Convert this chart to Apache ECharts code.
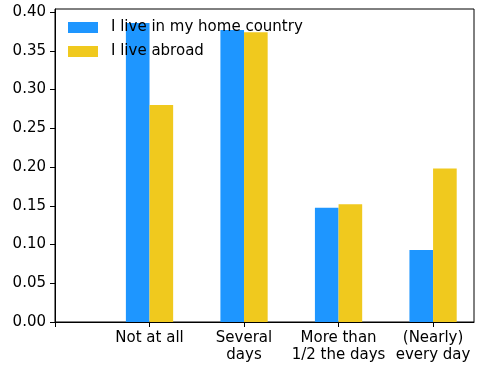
<!DOCTYPE html>
<html>
<head>
<meta charset="utf-8">
<script src="https://cdn.jsdelivr.net/npm/echarts@6/dist/echarts.min.js"></script>
<style>html,body{margin:0;padding:0;background:#fff}#c{width:477px;height:365px}</style>
</head>
<body>
<div id="c"></div>
<script>
const categories = ['', 'Not at all', 'Several\ndays', 'More than\n1/2 the days', '(Nearly)\nevery day'];
const seriesNames = ['I live in my home country', 'I live abroad'];
const homeValues = [null, 0.386, 0.377, 0.1475, 0.093];
const abroadValues = [null, 0.280, 0.374, 0.152, 0.198];
const yTicks = [0, 0.05, 0.10, 0.15, 0.20, 0.25, 0.30, 0.35, 0.40];
const colors = ['#1E96FF', '#F0C91E'];

const FONT = 'DejaVu Sans';
const FS = 15;
const BAR_W = 0.25;

function makeData(vals) {
  const out = [];
  vals.forEach((v, i) => { if (v !== null) out.push([i, v]); });
  return out;
}
function render(offset) {
  return function (params, api) {
    const x = api.value(0), v = api.value(1);
    const p0 = api.coord([x + offset, v]);
    const p1 = api.coord([x + offset + BAR_W, 0]);
    return {
      type: 'rect',
      shape: { x: p0[0], y: p0[1], width: p1[0] - p0[0], height: p1[1] - p0[1] },
      style: { fill: api.visual('color') }
    };
  };
}

const chart = echarts.init(document.getElementById('c'), null, { renderer: 'canvas' });
chart.setOption({
  animation: false,
  backgroundColor: '#fff',
  textStyle: { fontFamily: FONT },
  grid: { left: 55, right: 3, top: 9, bottom: 43, show: true, borderColor: '#000', borderWidth: 1, containLabel: false },
  legend: {
    orient: 'vertical', left: 63, top: 15,
    icon: 'rect', itemWidth: 30, itemHeight: 11, itemGap: 9,
    textStyle: { fontFamily: FONT, fontSize: FS, color: '#000', padding: [0, 0, 0, 8] },
    data: seriesNames
  },
  xAxis: {
    type: 'value', min: 0, max: 4.433, interval: 1,
    splitLine: { show: false },
    axisLine: { show: true, lineStyle: { color: '#000', width: 1 } },
    axisTick: { show: true, length: 5, lineStyle: { color: '#000' } },
    axisLabel: {
      color: '#000', fontFamily: FONT, fontSize: FS, lineHeight: 17, margin: 8,
      showMaxLabel: false,
      formatter: function (v) { const i = Math.round(v); return Math.abs(v - i) < 1e-6 ? (categories[i] || '') : ''; }
    }
  },
  yAxis: {
    type: 'value', min: 0, max: 0.404, interval: 0.05,
    splitLine: { show: false },
    axisLine: { show: true, lineStyle: { color: '#000', width: 1 } },
    axisTick: { show: true, length: 5, lineStyle: { color: '#000' } },
    axisLabel: {
      color: '#000', fontFamily: FONT, fontSize: FS, margin: 9,
      showMaxLabel: false,
      formatter: function (v) {
        const t = yTicks.find(t => Math.abs(t - v) < 1e-6);
        return t === undefined ? '' : t.toFixed(2);
      }
    }
  },
  series: [
    { name: seriesNames[0], type: 'custom', renderItem: render(-BAR_W), itemStyle: { color: colors[0] }, data: makeData(homeValues), z: 2 },
    { name: seriesNames[1], type: 'custom', renderItem: render(0), itemStyle: { color: colors[1] }, data: makeData(abroadValues), z: 2 }
  ]
});
</script>
</body>
</html>
